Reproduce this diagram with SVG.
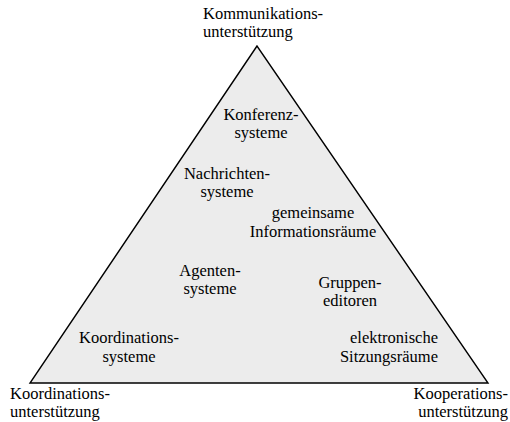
<svg xmlns="http://www.w3.org/2000/svg" width="510" height="422" viewBox="0 0 510 422">
<style>
text{font-family:"Liberation Serif","Times New Roman",serif;font-size:16.5px;fill:#000}
.c{text-anchor:middle}
.r{text-anchor:end}
</style>
<rect width="510" height="422" fill="#fff"/>
<g id="triangle">
<polygon points="257,46 30,383 488,383" fill="#ececec" stroke="#000" stroke-width="1.4" stroke-linejoin="miter"/>
</g>
<g id="corner-top"><text x="203" y="19">Kommunikations-</text><text x="203" y="37">unterstützung</text></g>
<g id="corner-left"><text x="10" y="399">Koordinations-</text><text x="10" y="417">unterstützung</text></g>
<g id="corner-right"><text class="r" x="508" y="399">Kooperations-</text><text class="r" x="508" y="417">unterstützung</text></g>
<g id="konferenz"><text class="c" x="261" y="120">Konferenz-</text><text class="c" x="261" y="138">systeme</text></g>
<g id="nachrichten"><text class="c" x="227" y="179">Nachrichten-</text><text class="c" x="227" y="197">systeme</text></g>
<g id="gemeinsame"><text class="c" x="313" y="218">gemeinsame</text><text class="c" x="313" y="237">Informationsräume</text></g>
<g id="agenten"><text class="c" x="210" y="276">Agenten-</text><text class="c" x="210" y="294">systeme</text></g>
<g id="gruppen"><text class="c" x="350" y="288">Gruppen-</text><text class="c" x="350" y="306">editoren</text></g>
<g id="koordinationssysteme"><text class="c" x="129" y="343">Koordinations-</text><text class="c" x="129" y="362">systeme</text></g>
<g id="sitzung"><text class="r" x="438" y="343">elektronische</text><text class="r" x="438" y="362">Sitzungsräume</text></g>
<g id="connectors"></g>
</svg>
